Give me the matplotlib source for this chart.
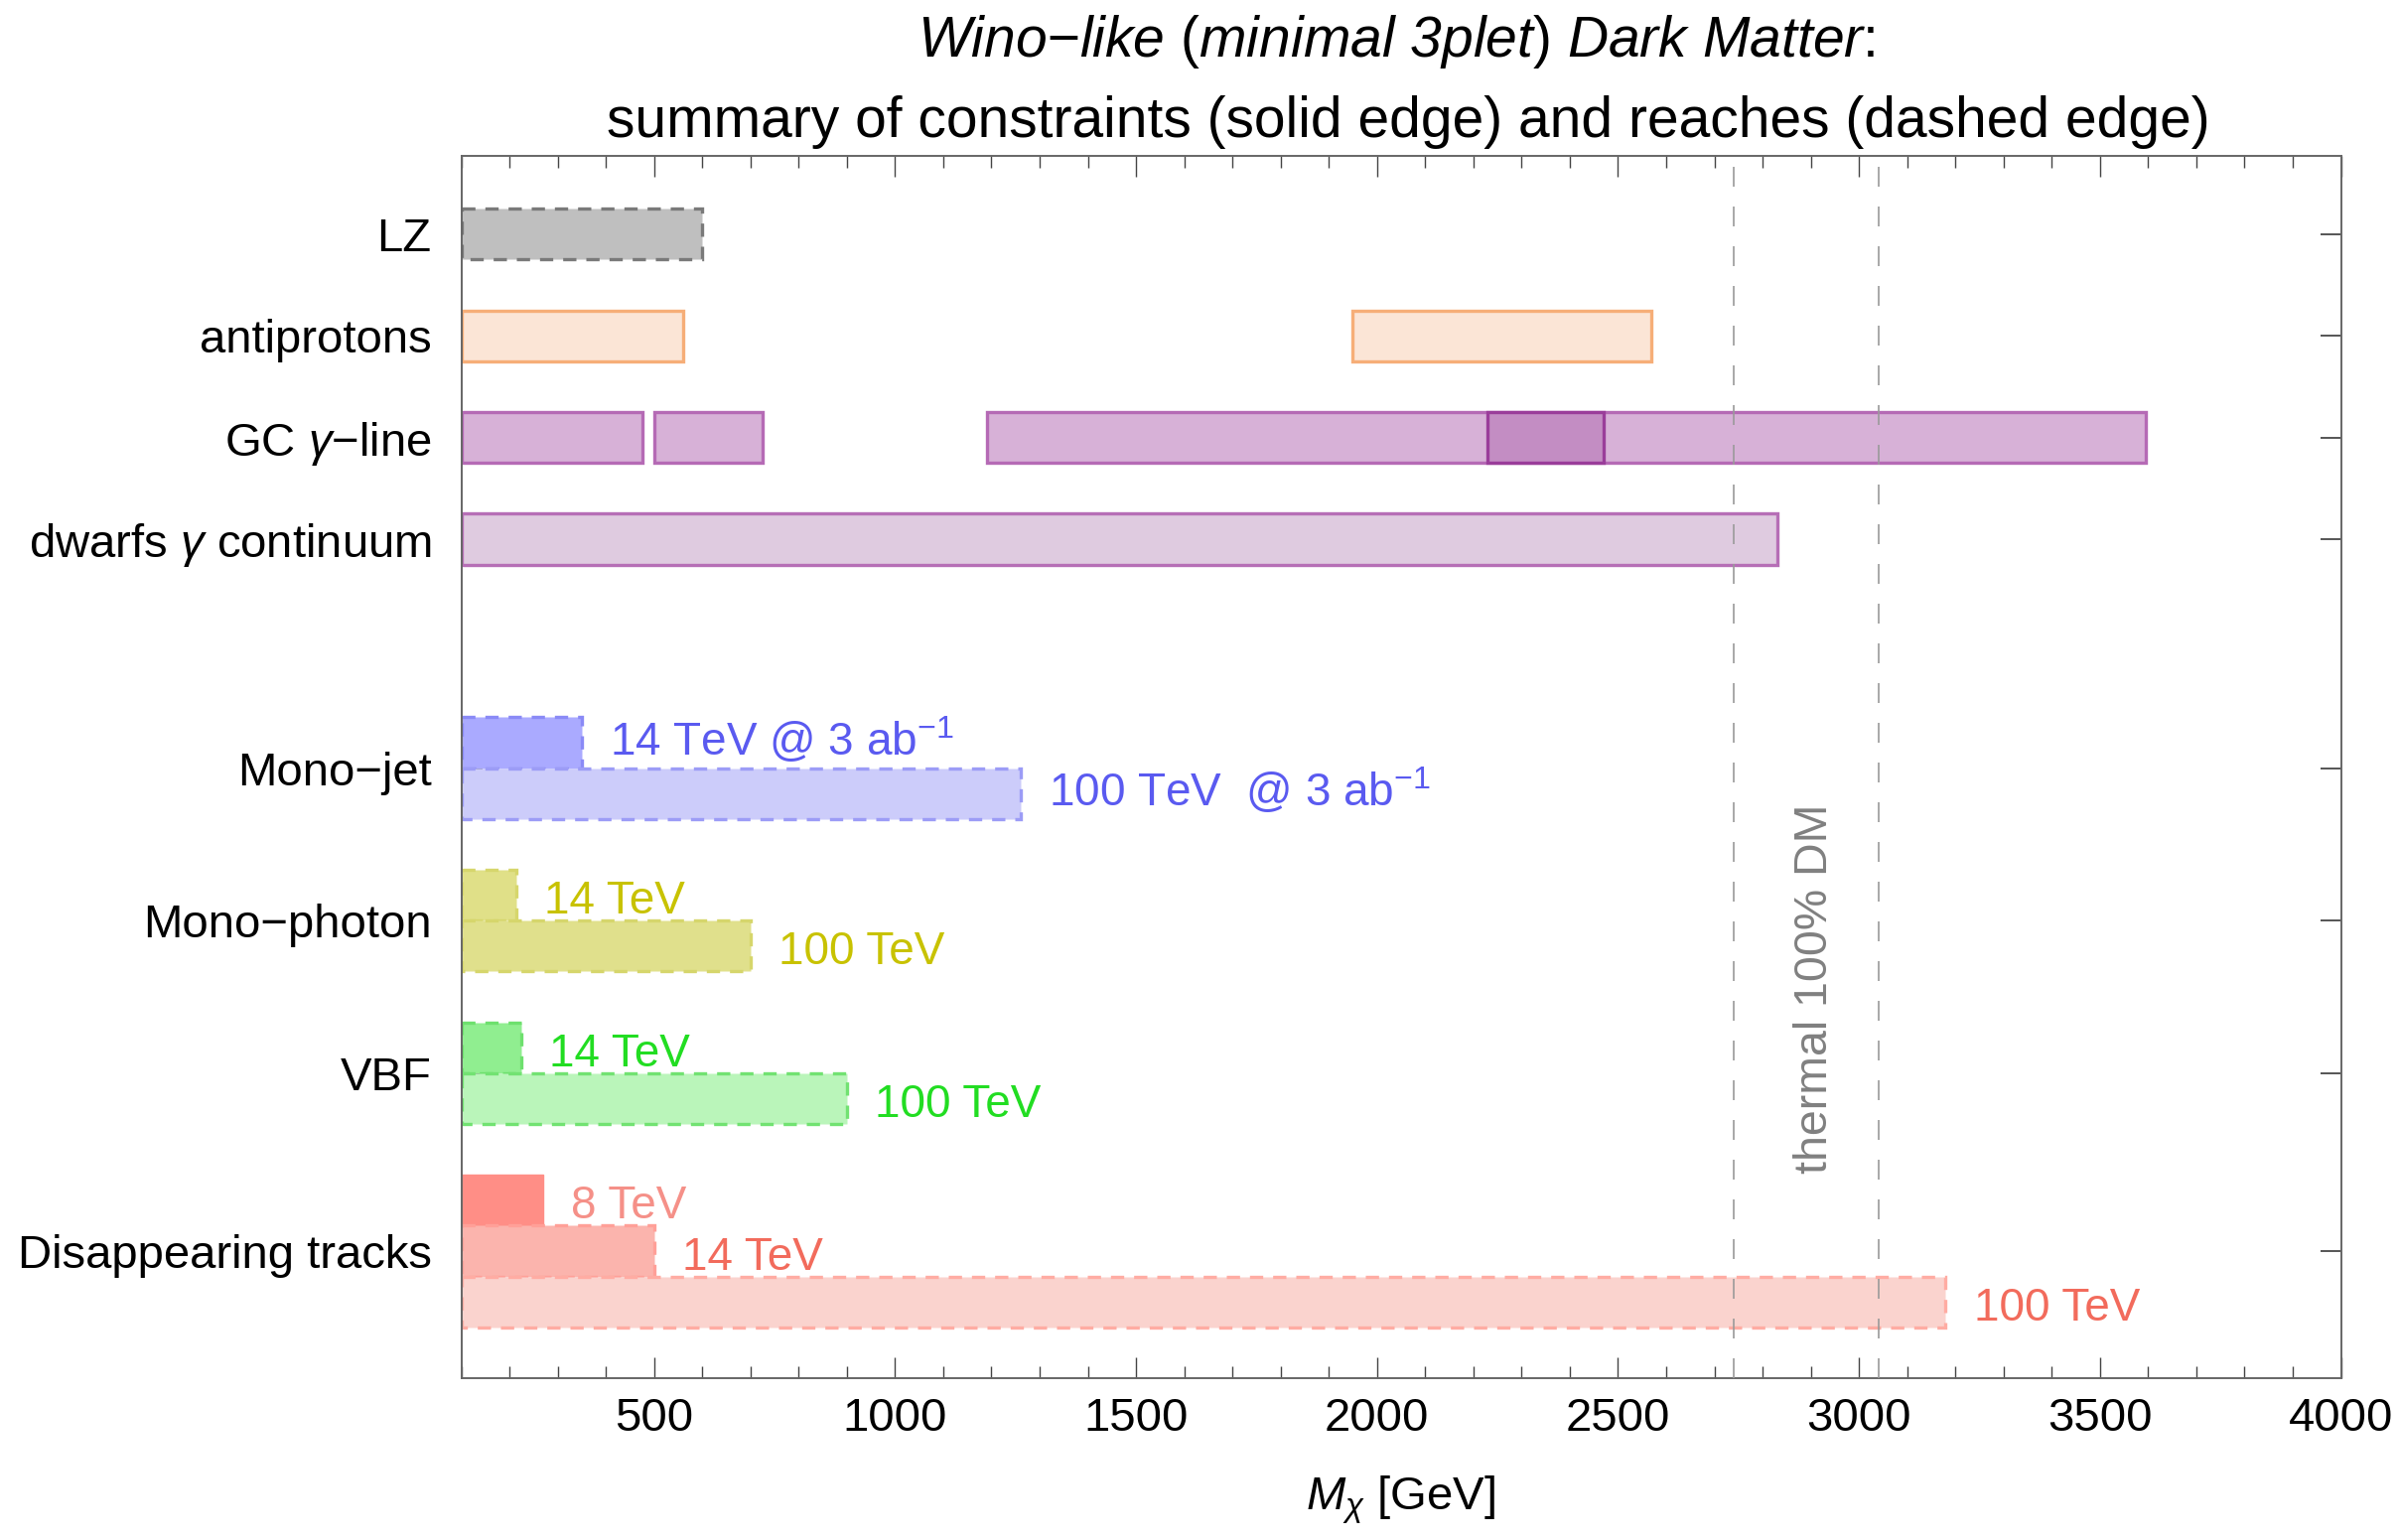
import matplotlib
matplotlib.use("Agg")
import matplotlib.pyplot as plt
from matplotlib.ticker import MultipleLocator

plt.rcParams['font.family'] = ['Liberation Sans', 'DejaVu Sans']
plt.rcParams['mathtext.fontset'] = 'custom'
plt.rcParams['mathtext.rm'] = 'Liberation Sans:italic'
plt.rcParams['mathtext.it'] = 'Liberation Sans:italic'
plt.rcParams['mathtext.bf'] = 'Liberation Sans:bold'

# ---------------- data ----------------
categories = ["LZ", "antiprotons", "GC $\\gamma$\u2212line", "dwarfs $\\gamma$ continuum",
              "Mono\u2212jet", "Mono\u2212photon", "VBF", "Disappearing tracks"]
category_pos = [0, 2, 4, 6, 10.5, 13.5, 16.5, 20]

x_min = 100
lz_range = [(100, 600)]
antiproton_ranges = [(100, 560), (1950, 2570)]
gc_line_ranges = [(100, 475), (500, 725), (1190, 3595)]
gc_line_strong = [(2230, 2470)]
dwarfs_range = [(100, 2830)]

monojet_reach = [350, 1260]          # 14 TeV, 100 TeV
monojet_labels = ["14 TeV @ 3 ab$\\mathregular{^{-1}}$", "100 TeV  @ 3 ab$\\mathregular{^{-1}}$"]
monophoton_reach = [215, 700]
monophoton_labels = ["14 TeV", "100 TeV"]
vbf_reach = [225, 900]
vbf_labels = ["14 TeV", "100 TeV"]
dt_reach = [270, 500, 3180]          # 8 TeV (constraint), 14 TeV, 100 TeV
dt_labels = ["8 TeV", "14 TeV", "100 TeV"]

thermal_mass = [2740, 3040]
xticks = [500, 1000, 1500, 2000, 2500, 3000, 3500, 4000]

FS = 34
TFS = 41

fig = plt.figure(figsize=(24.16, 15.51), dpi=100)
ax = fig.add_axes([0.19226, 0.10509, 0.78353, 0.79368])

DASH = (0, (4, 3))


def bar(y, left, right, face, edge, dashed, lw=2.4, z=2):
    ax.barh(y, right - left, left=left, height=1.0, color=face, edgecolor=edge,
            linewidth=lw, linestyle=DASH if dashed else '-', zorder=z)


# LZ
for l, r in lz_range:
    bar(category_pos[0], l, r, '#bfbfbf', '#7a7a7a', True, lw=2.4)
# antiprotons
for l, r in antiproton_ranges:
    bar(category_pos[1], l, r, '#fbe5d6', '#f6ae78', False)
# GC line
for l, r in gc_line_ranges:
    bar(category_pos[2], l, r, '#d7b1d7', '#b56ab5', False)
for l, r in gc_line_strong:
    bar(category_pos[2], l, r, '#c38dc3', '#9a3d9a', False, z=3)
# dwarfs
for l, r in dwarfs_range:
    bar(category_pos[3], l, r, '#dfcbe0', '#b66fb6', False)

off = 58
dy = 0.13
# Mono-jet
yc = category_pos[4]
bar(yc - 0.5, x_min, monojet_reach[0], '#aaaaff', '#8a8af6', True)
bar(yc + 0.5, x_min, monojet_reach[1], '#ccccfa', '#9c9cf6', True)
ax.text(monojet_reach[0] + off, yc - 0.55, monojet_labels[0], color='#5a5af0', fontsize=FS - 1, va='center', ha='left')
ax.text(monojet_reach[1] + off, yc + 0.45, monojet_labels[1], color='#5a5af0', fontsize=FS - 1, va='center', ha='left')

# Mono-photon
yc = category_pos[5]
bar(yc - 0.5, x_min, monophoton_reach[0], '#e0e088', '#d6d66c', True)
bar(yc + 0.5, x_min, monophoton_reach[1], '#e0e08c', '#d6d66c', True)
ax.text(monophoton_reach[0] + off, yc - 0.5 + dy, monophoton_labels[0], color='#c8c200', fontsize=FS - 1, va='center', ha='left')
ax.text(monophoton_reach[1] + off, yc + 0.5 + dy, monophoton_labels[1], color='#c8c200', fontsize=FS - 1, va='center', ha='left')

# VBF
yc = category_pos[6]
bar(yc - 0.5, x_min, vbf_reach[0], '#90ee90', '#6ee06e', True)
bar(yc + 0.5, x_min, vbf_reach[1], '#baf5ba', '#72e272', True)
ax.text(vbf_reach[0] + off, yc - 0.5 + dy, vbf_labels[0], color='#22dd22', fontsize=FS - 1, va='center', ha='left')
ax.text(vbf_reach[1] + off, yc + 0.5 + dy, vbf_labels[1], color='#22dd22', fontsize=FS - 1, va='center', ha='left')

# Disappearing tracks
yc = category_pos[7]
bar(yc - 1, x_min, dt_reach[0], '#ff8e86', '#ff8e86', False, lw=1.0)
bar(yc, x_min, dt_reach[1], '#fbb4ad', '#ffa098', True)
bar(yc + 1, x_min, dt_reach[2], '#fad3ce', '#ffaca3', True)
ax.text(dt_reach[0] + off, yc - 1 + dy, dt_labels[0], color='#f59088', fontsize=FS - 1, va='center', ha='left')
ax.text(dt_reach[1] + off, yc + dy, dt_labels[1], color='#f26b5c', fontsize=FS - 1, va='center', ha='left')
ax.text(dt_reach[2] + off, yc + 1 + dy, dt_labels[2], color='#f26b5c', fontsize=FS - 1, va='center', ha='left')

# thermal lines
for xm in thermal_mass:
    ax.axvline(xm, color='#9a9a9a', lw=1.2, ls=(0, (12, 12)), zorder=4)
ax.text(sum(thermal_mass) / 2 + 20, 14.84, "thermal 100% DM", rotation=90, color='#808080',
        fontsize=FS - 0.5, ha='center', va='center')

# axes
ax.set_xlim(100, 4000)
ax.set_ylim(22.5, -1.54)
ax.set_xticks(xticks)
ax.xaxis.set_minor_locator(MultipleLocator(100))
ax.set_yticks(category_pos)
ax.set_yticklabels(categories)
ax.tick_params(axis='x', which='major', direction='in', top=True, bottom=True,
               length=15, width=1.0, color='#444444', labelsize=FS, pad=14)
ax.tick_params(axis='x', which='minor', direction='in', top=True, bottom=True,
               length=8.5, width=1.0, color='#444444')
ax.tick_params(axis='y', which='major', direction='in', left=True, right=True,
               length=15, width=1.4, color='#555555', labelsize=FS, pad=21.6)
for s in ax.spines.values():
    s.set_color('#666666')
    s.set_linewidth(1.4)

ax.set_xlabel("$M_\\chi$ [GeV]", fontsize=FS, labelpad=24)

xc = 0.19226 + 0.78353 / 2
fig.text(xc - 0.002, 0.9729, "$Wino{-}like$ ($minimal\\ 3plet$) $Dark\\ Matter$:",
         fontsize=TFS, ha='center', va='center')
fig.text(xc + 0.003, 0.9207, "summary of constraints (solid edge) and reaches (dashed edge)",
         fontsize=TFS, ha='center', va='center')

fig.savefig("out.png", dpi=100)
